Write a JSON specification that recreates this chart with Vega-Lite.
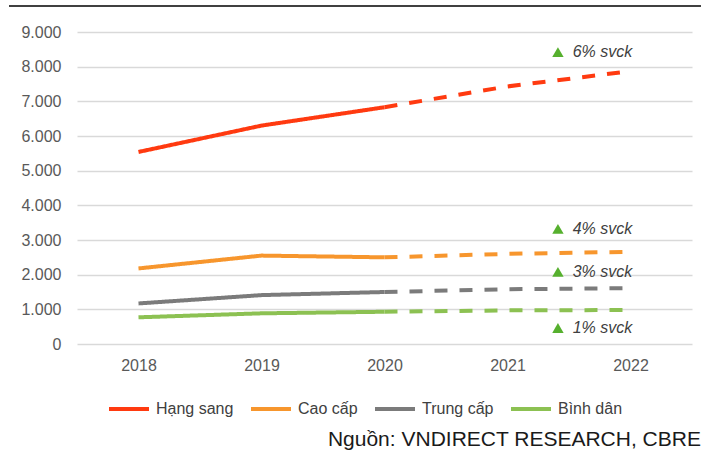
{
  "$schema": "https://vega.github.io/schema/vega-lite/v6.json",
  "width": 615,
  "height": 312,
  "autosize": {"type": "none"},
  "padding": {"left": 77, "top": 32, "right": 9, "bottom": 106},
  "background": "white",
  "config": {
    "view": {"stroke": null},
    "font": "Liberation Sans"
  },
  "datasets": {
    "series": [
      {"series": "Hạng sang", "year": 2018, "value": 5540, "kind": "actual"},
      {"series": "Hạng sang", "year": 2019, "value": 6300, "kind": "actual"},
      {"series": "Hạng sang", "year": 2020, "value": 6830, "kind": "actual"},
      {"series": "Hạng sang", "year": 2020, "value": 6830, "kind": "forecast"},
      {"series": "Hạng sang", "year": 2021, "value": 7430, "kind": "forecast"},
      {"series": "Hạng sang", "year": 2022, "value": 7870, "kind": "forecast"},
      {"series": "Cao cấp", "year": 2018, "value": 2180, "kind": "actual"},
      {"series": "Cao cấp", "year": 2019, "value": 2550, "kind": "actual"},
      {"series": "Cao cấp", "year": 2020, "value": 2500, "kind": "actual"},
      {"series": "Cao cấp", "year": 2020, "value": 2500, "kind": "forecast"},
      {"series": "Cao cấp", "year": 2021, "value": 2600, "kind": "forecast"},
      {"series": "Cao cấp", "year": 2022, "value": 2660, "kind": "forecast"},
      {"series": "Trung cấp", "year": 2018, "value": 1170, "kind": "actual"},
      {"series": "Trung cấp", "year": 2019, "value": 1410, "kind": "actual"},
      {"series": "Trung cấp", "year": 2020, "value": 1500, "kind": "actual"},
      {"series": "Trung cấp", "year": 2020, "value": 1500, "kind": "forecast"},
      {"series": "Trung cấp", "year": 2021, "value": 1580, "kind": "forecast"},
      {"series": "Trung cấp", "year": 2022, "value": 1610, "kind": "forecast"},
      {"series": "Bình dân", "year": 2018, "value": 770, "kind": "actual"},
      {"series": "Bình dân", "year": 2019, "value": 885, "kind": "actual"},
      {"series": "Bình dân", "year": 2020, "value": 930, "kind": "actual"},
      {"series": "Bình dân", "year": 2020, "value": 930, "kind": "forecast"},
      {"series": "Bình dân", "year": 2021, "value": 970, "kind": "forecast"},
      {"series": "Bình dân", "year": 2022, "value": 980, "kind": "forecast"}
    ],
    "notes": [
      {"label": "6% svck", "xm": 2021.41, "xt": 2021.53, "value": 8420},
      {"label": "4% svck", "xm": 2021.41, "xt": 2021.53, "value": 3320},
      {"label": "3% svck", "xm": 2021.41, "xt": 2021.53, "value": 2080},
      {"label": "1% svck", "xm": 2021.41, "xt": 2021.53, "value": 460}
    ],
    "frame": [
      {"x": 2016.947, "x2": 2022.573, "value": 9750}
    ],
    "source": [
      {"label": "Nguồn: VNDIRECT RESEARCH, CBRE", "x": 2022.573, "value": -2940}
    ]
  },
  "encoding": {
    "y": {
      "field": "value",
      "type": "quantitative",
      "scale": {"domain": [0, 9000], "nice": false, "zero": true},
      "axis": {
        "values": [0, 1000, 2000, 3000, 4000, 5000, 6000, 7000, 8000, 9000],
        "tickCount": 10,
        "labelExpr": "replace(format(datum.value, ','), ',', '.')",
        "labelOverlap": false,
        "title": null,
        "domain": false,
        "ticks": false,
        "labelPadding": 16,
        "labelFontSize": 16,
        "labelColor": "#595959",
        "labelFont": "Liberation Sans",
        "gridColor": "#D9D9D9",
        "gridWidth": 1.5
      }
    }
  },
  "layer": [
    {
      "data": {"name": "series"},
      "mark": {"type": "line", "strokeWidth": 4, "strokeCap": "butt"},
      "encoding": {
        "x": {
          "field": "year",
          "type": "quantitative",
          "scale": {"domain": [2017.5, 2022.5], "nice": false, "zero": false},
          "axis": {
            "values": [2018, 2019, 2020, 2021, 2022],
            "format": "d",
            "title": null,
            "grid": false,
            "domain": false,
            "ticks": false,
            "labelPadding": 13,
            "labelFontSize": 16,
            "labelColor": "#595959",
            "labelFont": "Liberation Sans"
          }
        },
        "color": {
          "field": "series",
          "type": "nominal",
          "sort": ["Hạng sang", "Cao cấp", "Trung cấp", "Bình dân"],
          "scale": {
            "domain": ["Hạng sang", "Cao cấp", "Trung cấp", "Bình dân"],
            "range": ["#FF3A10", "#F7962D", "#7B7B7B", "#8CC152"]
          },
          "legend": {
            "title": null,
            "orient": "none",
            "direction": "horizontal",
            "legendX": 30,
            "legendY": 355,
            "symbolType": "stroke",
            "symbolStrokeWidth": 4,
            "symbolSize": 1600,
            "labelFontSize": 16,
            "labelColor": "#404040",
            "labelFont": "Liberation Sans",
            "labelOffset": 5,
            "columnPadding": 9
          }
        },
        "strokeDash": {
          "field": "kind",
          "type": "nominal",
          "scale": {"domain": ["actual", "forecast"], "range": [[1, 0], [13, 12]]},
          "legend": null
        },
        "detail": {"field": "kind"}
      }
    },
    {
      "data": {"name": "notes"},
      "mark": {"type": "point", "shape": "triangle-up", "filled": true, "opacity": 1, "color": "#56B02E", "size": 130},
      "encoding": {
        "x": {"field": "xm", "type": "quantitative"}
      }
    },
    {
      "data": {"name": "notes"},
      "mark": {"type": "text", "align": "left", "baseline": "middle", "fontSize": 16, "fontStyle": "italic", "font": "Liberation Sans", "color": "#404040"},
      "encoding": {
        "x": {"field": "xt", "type": "quantitative"},
        "text": {"field": "label"}
      }
    },
    {
      "data": {"name": "frame"},
      "mark": {"type": "rule", "color": "#000000", "strokeWidth": 1.5},
      "encoding": {
        "x": {"field": "x", "type": "quantitative"},
        "x2": {"field": "x2"}
      }
    },
    {
      "data": {"name": "source"},
      "mark": {"type": "text", "align": "right", "baseline": "alphabetic", "fontSize": 21, "font": "Liberation Sans", "color": "#1a1a1a"},
      "encoding": {
        "x": {"field": "x", "type": "quantitative"},
        "text": {"field": "label"}
      }
    }
  ]
}
